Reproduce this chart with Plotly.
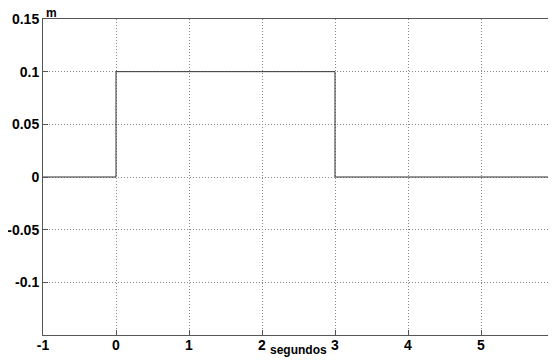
import plotly.graph_objects as go

# data
t = [-1, 0, 3, 6]
amplitude = [0, 0.1, 0, 0]
x_ticks = [-1, 0, 1, 2, 3, 4, 5, 6]
y_ticks = [-0.15, -0.1, -0.05, 0, 0.05, 0.1, 0.15]
y_tick_labels = ["", "-0.1", "-0.05", "0", "0.05", "0.1", "0.15"]

fig = go.Figure()
fig.add_trace(go.Scatter(x=t, y=amplitude, mode="lines", line_shape="hv",
                         line=dict(color="#333333", width=1), showlegend=False,
                         hoverinfo="skip"))

font = dict(family="Liberation Sans, Arial, sans-serif", size=14, color="black", weight="bold")

fig.update_xaxes(range=[-1, 6], tickvals=x_ticks, ticktext=[str(v) for v in x_ticks],
                 showgrid=True, gridcolor="#888888", griddash="1px,2px", gridwidth=1,
                 showline=True, linecolor="#555555", linewidth=1, mirror=True,
                 ticks="inside", ticklen=5, tickcolor="#555555", tickfont=font,
                 ticklabelstandoff=-3, ticklabeloverflow="allow",
                 zeroline=False, automargin=False)
fig.update_yaxes(range=[-0.15, 0.15], tickvals=y_ticks, ticktext=y_tick_labels,
                 showgrid=True, gridcolor="#888888", griddash="1px,2px", gridwidth=1,
                 showline=True, linecolor="#555555", linewidth=1, mirror=True,
                 ticks="inside", ticklen=5, tickcolor="#555555", tickfont=font,
                 ticklabeloverflow="allow",
                 zeroline=False, automargin=False)

fig.add_annotation(text="m", xref="paper", yref="paper", x=0.0, y=1.0,
                   xanchor="left", yanchor="bottom", xshift=1, yshift=-3,
                   showarrow=False, font=dict(family="Liberation Sans, Arial, sans-serif",
                                              size=12, color="black", weight="bold"))
fig.add_annotation(text="segundos", xref="x", yref="paper", x=2.5, y=0.0,
                   xanchor="center", yanchor="top", yshift=-6,
                   showarrow=False, font=dict(family="Liberation Sans, Arial, sans-serif",
                                              size=12, color="black", weight="bold"))

fig.update_layout(width=548, height=352, margin=dict(l=35, r=2, t=11, b=25),
                  plot_bgcolor="white", paper_bgcolor="white")

fig.write_html("out.html")
